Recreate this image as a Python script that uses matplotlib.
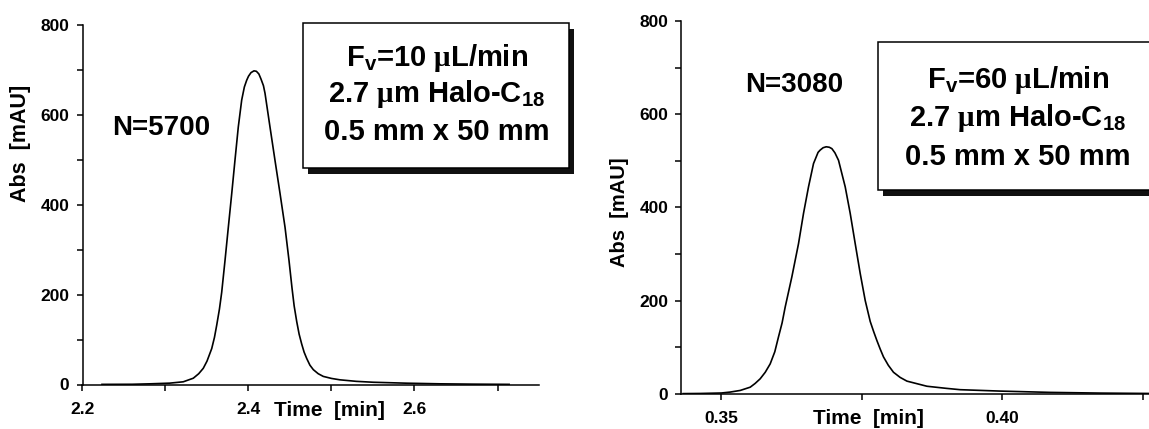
import matplotlib
matplotlib.use("Agg")
import matplotlib.pyplot as plt
from matplotlib.patches import Rectangle
from matplotlib.ticker import MultipleLocator, FormatStrFormatter

# chromatogram: Fv = 10 uL/min
t_10 = [2.2235, 2.26, 2.2813, 2.3050, 2.3214, 2.3335, 2.3400, 2.3455, 2.3500, 2.3557,
        2.3590, 2.3617, 2.3650, 2.3677, 2.3717, 2.3757, 2.3798, 2.3837, 2.3877, 2.3918,
        2.3950, 2.3978, 2.4000, 2.4030, 2.4066, 2.4095, 2.4125, 2.4150, 2.4180, 2.4199,
        2.4259, 2.4319, 2.4380, 2.4440, 2.4488, 2.4524, 2.4550, 2.4581, 2.4610, 2.4641,
        2.4670, 2.4701, 2.4740, 2.4781, 2.4840, 2.4901, 2.5000, 2.5102, 2.5300, 2.5504,
        2.5906, 2.6307, 2.6700, 2.714]
abs_10 = [0.3, 0.5, 1.5, 3, 6, 14, 24, 36, 52, 80,
          105, 132, 168, 205, 276, 350, 425, 499, 573, 633,
          662, 677, 686, 694, 698, 697, 691, 680, 665, 648,
          573, 499, 425, 350, 276, 215, 175, 140, 112, 90,
          72, 58, 43, 33, 24, 18, 13.5, 10.4, 7, 5,
          2.9, 1.5, 0.8, 0.3]

# Fv = 60 uL/min
t_60 = [0.3432, 0.34623, 0.35, 0.35157, 0.35335, 0.35513, 0.3560, 0.3569, 0.3578, 0.35868,
        0.3595, 0.36016, 0.3608, 0.36135, 0.36254, 0.36372, 0.36461, 0.3655, 0.36639, 0.3672,
        0.36758, 0.3681, 0.36865, 0.3692, 0.36966, 0.3702, 0.37084, 0.37203, 0.37292, 0.37381,
        0.3747, 0.37559, 0.37648, 0.3771, 0.37767, 0.37825, 0.37884, 0.3797, 0.38062, 0.3818,
        0.38301, 0.38657, 0.3900, 0.39249, 0.39961, 0.40851, 0.4174, 0.42612]
abs_60 = [0.2, 0.5, 1.5, 3.5, 7, 14, 22, 32, 46, 64,
          90, 122, 152, 186, 251, 322, 387, 444, 494, 518,
          523, 528, 530, 529, 526, 517, 501, 444, 387, 322,
          258, 200, 155, 133, 114, 96, 79, 61, 46, 35,
          27, 16, 11.5, 8.6, 5.6, 2.8, 1.3, 0.5]

plt.rcParams['font.family'] = ['Liberation Sans', 'DejaVu Sans']
plt.rcParams['font.weight'] = 'bold'
plt.rcParams['axes.labelweight'] = 'bold'
plt.rcParams['mathtext.fontset'] = 'custom'
plt.rcParams['mathtext.rm'] = 'Liberation Sans:bold'
plt.rcParams['mathtext.bf'] = 'Liberation Sans:bold'
# the mu in the boxes is a thin serif glyph (Symbol font in the original)
plt.rcParams['mathtext.it'] = 'Liberation Serif'

W, H = 1149, 429
fig = plt.figure(figsize=(W / 100, H / 100), dpi=100)


def px_axes(x0, y_top, x1, y_bot):
    return fig.add_axes([x0 / W, 1 - y_bot / H, (x1 - x0) / W, (y_bot - y_top) / H])


def style(ax, major, minor):
    for s in ['top', 'right']:
        ax.spines[s].set_visible(False)
    for s in ['left', 'bottom']:
        ax.spines[s].set_linewidth(1.1)
    ax.set_ylim(0, 800)
    ax.yaxis.set_major_locator(MultipleLocator(200))
    ax.yaxis.set_minor_locator(MultipleLocator(100))
    ax.xaxis.set_major_locator(MultipleLocator(major))
    ax.xaxis.set_minor_locator(MultipleLocator(minor))
    ax.tick_params(which='both', direction='out', width=1.1, labelsize=12.5, length=4.5)
    ax.tick_params(axis='y', pad=5)
    ax.tick_params(axis='x', pad=8)


def box(x0, y0, x1, y1, lines, ys, xc, size):
    sh = Rectangle(((x0 + 5) / W, 1 - (y1 + 6) / H), (x1 - x0) / W, (y1 - y0) / H,
                   transform=fig.transFigure, facecolor='#111111', edgecolor='none', zorder=5)
    fr = Rectangle((x0 / W, 1 - y1 / H), (x1 - x0) / W, (y1 - y0) / H,
                   transform=fig.transFigure, facecolor='white', edgecolor='black',
                   linewidth=1.1, zorder=6)
    fig.add_artist(sh)
    fig.add_artist(fr)
    for s, y in zip(lines, ys):
        fig.text(xc / W, 1 - y / H, s, ha='center', va='center', fontsize=size, zorder=7)


# left panel
ax1 = px_axes(82.5, 25, 539, 384.5)
ax1.plot(t_10, abs_10, color='black', lw=1.2)
ax1.set_xlim(2.2, 2.75)
style(ax1, 0.2, 0.1)
ax1.set_xlabel('Time  [min]', fontsize=15)
ax1.xaxis.set_label_coords(0.542, -0.045)
ax1.set_ylabel('Abs  [mAU]', fontsize=15.5)
ax1.yaxis.set_label_coords(-0.113, 0.67)
ax1.text(0.172, 0.7135, 'N=5700', transform=ax1.transAxes, ha='center', va='center', fontsize=20)

# right panel
ax2 = px_axes(681.5, 21, 1160, 393.7)
ax2.plot(t_60, abs_60, color='black', lw=1.2)
ax2.set_xlim(0.3429, 0.3429 + 478.5 / 5620)
style(ax2, 0.05, 0.025)
ax2.xaxis.set_major_formatter(FormatStrFormatter('%.2f'))
ax2.set_xlabel('Time  [min]', fontsize=15)
ax2.xaxis.set_label_coords(0.39, -0.042)
ax2.set_ylabel('Abs  [mAU]', fontsize=14.5)
ax2.yaxis.set_label_coords(-0.11, 0.4875)
ax2.text(0.2345, 0.828, 'N=3080', transform=ax2.transAxes, ha='center', va='center', fontsize=20)

box(302.7, 23, 569, 168,
    [r'$\mathrm{F_v}$=10 $\mu$L/min', r'2.7 $\mu$m Halo-C$_{\mathrm{18}}$', '0.5 mm x 50 mm'],
    [58, 94, 132], 437, 21)
box(878, 42, 1160, 190,
    [r'$\mathrm{F_v}$=60 $\mu$L/min', r'2.7 $\mu$m Halo-C$_{\mathrm{18}}$', '0.5 mm x 50 mm'],
    [80, 118, 157], 1018, 21)

fig.savefig('out.png', dpi=100)
